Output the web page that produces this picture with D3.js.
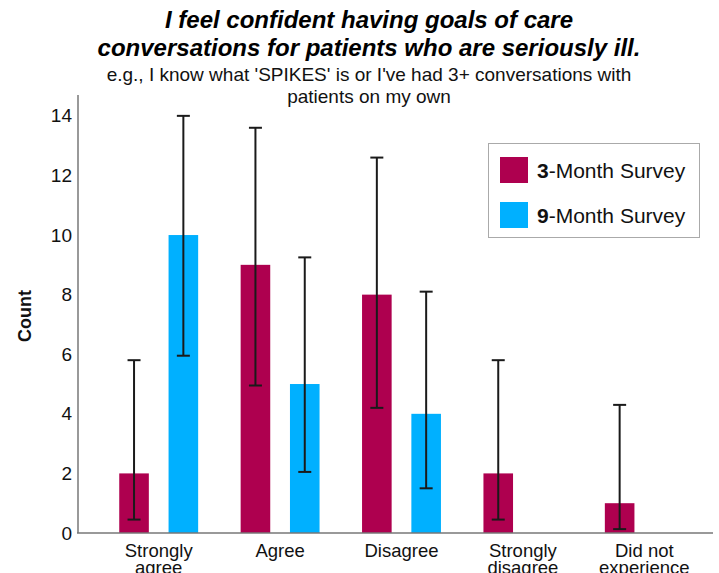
<!DOCTYPE html>
<html>
<head>
<meta charset="utf-8">
<script src="https://cdn.jsdelivr.net/npm/d3@7"></script>
<style>
  html, body { margin: 0; padding: 0; background: #fff; }
  svg { display: block; font-family: "Liberation Sans", Arial, Helvetica, sans-serif; }
</style>
</head>
<body>
<svg id="chart" width="719" height="573"></svg>
<script>
// ---- data ----
const categories = [["Strongly", "agree"], ["Agree"], ["Disagree"], ["Strongly", "disagree"], ["Did not", "experience"]];
const categoryKeys = ["Strongly agree", "Agree", "Disagree", "Strongly disagree", "Did not experience"];
const seriesNames = ["3-Month Survey", "9-Month Survey"];
const seriesBold = ["3", "9"];
const seriesRest = ["-Month Survey", "-Month Survey"];
const seriesColors = ["#AE004F", "#00B0FF"];
const values3 = [2, 9, 8, 2, 1];
const values9 = [10, 5, 4, 0, 0];
const low3 = [0.45, 4.95, 4.2, 0.45, 0.13];
const high3 = [5.8, 13.6, 12.6, 5.8, 4.3];
const low9 = [5.95, 2.05, 1.5, null, null];
const high9 = [14.0, 9.25, 8.1, null, null];
const yTicks = [0, 2, 4, 6, 8, 10, 12, 14];
const titleLines = ["I feel confident having goals of care", "conversations for patients who are seriously ill."];
const subtitleLines = ["e.g., I know what 'SPIKES' is or I've had 3+ conversations with", "patients on my own"];

const svg = d3.select("#chart");

// scales
const y = d3.scaleLinear().domain([0, 14.7]).range([533, 95]);
const x0 = d3.scaleBand().domain(categoryKeys).range([98, 705]).paddingInner(0.35).paddingOuter(0.175);
const x1 = d3.scaleBand().domain(seriesNames).range([0, x0.bandwidth()]).paddingInner(0.4);

// title
const cx = 369;
svg.append("g").selectAll("text").data(titleLines).join("text")
  .attr("x", cx).attr("y", (d, i) => 28 + i * 28)
  .attr("text-anchor", "middle")
  .attr("font-size", 24).attr("font-weight", "bold").attr("font-style", "italic")
  .attr("fill", "#000").text(d => d);
svg.append("g").selectAll("text").data(subtitleLines).join("text")
  .attr("x", cx).attr("y", (d, i) => 81 + i * 22)
  .attr("text-anchor", "middle")
  .attr("font-size", 19).attr("fill", "#111").text(d => d);

// bars
const rows = categoryKeys.map((k, i) => ({
  key: k,
  items: [
    { s: seriesNames[0], v: values3[i], lo: low3[i], hi: high3[i], c: seriesColors[0] },
    { s: seriesNames[1], v: values9[i], lo: low9[i], hi: high9[i], c: seriesColors[1] }
  ]
}));

const groups = svg.append("g").selectAll("g").data(rows).join("g")
  .attr("transform", d => `translate(${x0(d.key)},0)`);

groups.selectAll("rect").data(d => d.items.filter(e => e.v > 0)).join("rect")
  .attr("x", d => x1(d.s)).attr("width", x1.bandwidth())
  .attr("y", d => y(d.v)).attr("height", d => y(0) - y(d.v))
  .attr("fill", d => d.c);

// error bars
const eb = groups.selectAll("g.eb").data(d => d.items.filter(e => e.lo != null)).join("g").attr("class", "eb")
  .attr("stroke", "#1a1a1a").attr("stroke-width", 2);
eb.append("line")
  .attr("x1", d => x1(d.s) + x1.bandwidth() / 2).attr("x2", d => x1(d.s) + x1.bandwidth() / 2)
  .attr("y1", d => y(d.lo)).attr("y2", d => y(d.hi));
eb.append("line")
  .attr("x1", d => x1(d.s) + x1.bandwidth() / 2 - 6.5).attr("x2", d => x1(d.s) + x1.bandwidth() / 2 + 6.5)
  .attr("y1", d => y(d.lo)).attr("y2", d => y(d.lo));
eb.append("line")
  .attr("x1", d => x1(d.s) + x1.bandwidth() / 2 - 6.5).attr("x2", d => x1(d.s) + x1.bandwidth() / 2 + 6.5)
  .attr("y1", d => y(d.hi)).attr("y2", d => y(d.hi));

// y axis
const yAxis = svg.append("g").attr("transform", "translate(78,0)")
  .call(d3.axisLeft(y).tickValues(yTicks).tickSize(0).tickPadding(6).tickFormat(d3.format("d")));
yAxis.select(".domain").remove();
yAxis.selectAll("text").attr("font-size", 19).attr("fill", "#111")
  .style("font-family", '"Liberation Sans", Arial, sans-serif');
svg.append("line").attr("x1", 78).attr("x2", 78).attr("y1", y(14.7)).attr("y2", y(0))
  .attr("stroke", "#777").attr("stroke-width", 1.5);

// x axis
const xAxis = svg.append("g").attr("transform", `translate(0,${y(0)})`)
  .call(d3.axisBottom(x0).tickSize(0).tickFormat(""));
xAxis.select(".domain").remove();
xAxis.selectAll(".tick").each(function (d, i) {
  const t = d3.select(this).append("text")
    .attr("text-anchor", "middle").attr("fill", "#111").attr("font-size", 18.5)
    .style("font-family", '"Liberation Sans", Arial, sans-serif');
  categories[i].forEach((ln, j) => {
    t.append("tspan").attr("x", 0).attr("y", 23.5 + j * 17).text(ln);
  });
});
svg.append("line").attr("x1", 77).attr("x2", 713).attr("y1", y(0)).attr("y2", y(0))
  .attr("stroke", "#777").attr("stroke-width", 1.5);

// y label
svg.append("text").attr("transform", `translate(31,${(y(0) + y(14.7)) / 2 + 2}) rotate(-90)`)
  .attr("text-anchor", "middle").attr("font-size", 18).attr("font-weight", "bold").attr("fill", "#111")
  .text("Count");

// legend
const lg = svg.append("g");
lg.append("rect").attr("x", 488.5).attr("y", 143.5).attr("width", 211).attr("height", 94)
  .attr("fill", "#fff").attr("stroke", "#aaa").attr("stroke-width", 1);
const li = lg.selectAll("g.li").data(seriesNames).join("g").attr("class", "li")
  .attr("transform", (d, i) => `translate(0,${i * 45})`);
li.append("rect").attr("x", 500).attr("y", 157).attr("width", 28).attr("height", 26)
  .attr("fill", (d, i) => seriesColors[i]);
const lt = li.append("text").attr("x", 537).attr("y", 178).attr("font-size", 21).attr("fill", "#111");
lt.append("tspan").attr("font-weight", "bold").text((d, i) => seriesBold[i]);
lt.append("tspan").text((d, i) => seriesRest[i]);
</script>
</body>
</html>
